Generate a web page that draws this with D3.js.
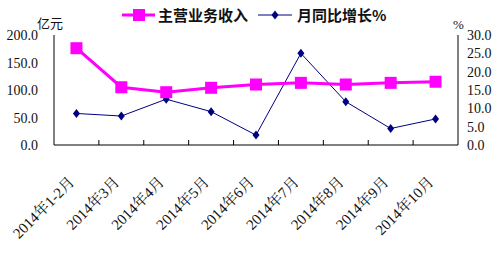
<!DOCTYPE html>
<html><head><meta charset="utf-8">
<script src="https://cdn.jsdelivr.net/npm/d3@7/dist/d3.min.js"></script>
<style>body{margin:0;background:#fff;}svg{display:block;}</style>
</head><body>
<script>
const categories = ["2014年1-2月","2014年3月","2014年4月","2014年5月","2014年6月","2014年7月","2014年8月","2014年9月","2014年10月"];
const revenue = [176, 105, 96, 104, 110, 113, 110, 113, 115];
const growth = [8.6, 7.9, 12.5, 9.1, 2.7, 25.0, 11.8, 4.5, 7.1];
const leftTicks = [0, 50, 100, 150, 200];
const rightTicks = [0, 5, 10, 15, 20, 25, 30];
const seriesNames = ["主营业务收入", "月同比增长%"];

const W = 500, H = 255;
const svg = d3.select("body").append("svg").attr("width", W).attr("height", H);
const L = 54, R = 458, T = 35, B = 145;
const x = d3.scaleBand().domain(categories).range([L, R]);
const yL = d3.scaleLinear().domain([0, 200]).range([B, T]);
const yR = d3.scaleLinear().domain([0, 30]).range([B, T]);
const font = "'Liberation Serif','Times New Roman',serif";
const xfont = "'Liberation Serif','Noto Serif CJK SC','Noto Sans CJK SC',serif";

// axis lines
svg.append("line").attr("x1", L).attr("x2", L).attr("y1", T).attr("y2", B).attr("stroke", "#000");
svg.append("line").attr("x1", R).attr("x2", R).attr("y1", T).attr("y2", B).attr("stroke", "#000");
svg.append("line").attr("x1", L).attr("x2", R).attr("y1", B).attr("y2", B).attr("stroke", "#000");
// x ticks (inward)
const bounds = categories.map(c => x(c)).concat([R]);
svg.selectAll(".xt").data(bounds.slice(1, -1)).enter().append("line")
  .attr("x1", d => d).attr("x2", d => d).attr("y1", B).attr("y2", B - 5).attr("stroke", "#000");

// left tick labels
svg.selectAll(".lt").data(leftTicks).enter().append("text")
  .attr("x", 38).attr("y", d => yL(d) + 5).attr("text-anchor", "end")
  .attr("font-family", font).attr("font-size", 14).attr("fill", "#111")
  .text(d => d3.format(".1f")(d));
svg.selectAll(".rt").data(rightTicks).enter().append("text")
  .attr("x", 467).attr("y", d => yR(d) + 5).attr("text-anchor", "start")
  .attr("font-family", font).attr("font-size", 14).attr("fill", "#111")
  .text(d => d3.format(".1f")(d));

// units
svg.append("text").attr("x", 37).attr("y", 28).attr("font-family", "'Noto Sans CJK SC',sans-serif")
  .attr("font-size", 13).attr("fill", "#111").text("亿元");
svg.append("text").attr("x", 453).attr("y", 29).attr("font-family", font)
  .attr("font-size", 13).attr("fill", "#111").text("%");

// x labels
svg.selectAll(".xl").data(categories).enter().append("text")
  .attr("transform", d => `translate(${x(d) + x.bandwidth() / 2 - 1},${B + 38}) rotate(-45)`)
  .attr("text-anchor", "end").attr("font-family", xfont)
  .attr("font-size", 15).attr("fill", "#111").text(d => d);

const cx = d => x(d) + x.bandwidth() / 2;

// growth series
svg.append("path").datum(growth)
  .attr("d", d3.line().x((d, i) => cx(categories[i])).y(d => yR(d)))
  .attr("fill", "none").attr("stroke", "#000080").attr("stroke-width", 1);
svg.selectAll(".gd").data(growth).enter().append("path")
  .attr("transform", (d, i) => `translate(${cx(categories[i])},${yR(d)})`)
  .attr("d", "M0,-4.5L3.5,0L0,4.5L-3.5,0Z").attr("fill", "#000080");

// revenue series
svg.append("path").datum(revenue)
  .attr("d", d3.line().x((d, i) => cx(categories[i])).y(d => yL(d)))
  .attr("fill", "none").attr("stroke", "#FF00FF").attr("stroke-width", 3);
svg.selectAll(".rs").data(revenue).enter().append("rect")
  .attr("x", (d, i) => cx(categories[i]) - 6).attr("y", d => yL(d) - 6)
  .attr("width", 12).attr("height", 12).attr("fill", "#FF00FF");

// legend
const lg = svg.append("g");
lg.append("line").attr("x1", 122).attr("x2", 155).attr("y1", 15).attr("y2", 15).attr("stroke", "#FF00FF").attr("stroke-width", 3);
lg.append("rect").attr("x", 133).attr("y", 9).attr("width", 12).attr("height", 12).attr("fill", "#FF00FF");
lg.append("text").attr("x", 158).attr("y", 21).attr("font-family", "'Noto Sans CJK SC',sans-serif")
  .attr("font-weight", "bold").attr("font-size", 15).attr("fill", "#111").text(seriesNames[0]);
lg.append("line").attr("x1", 258).attr("x2", 292).attr("y1", 15).attr("y2", 15).attr("stroke", "#000080").attr("stroke-width", 1);
lg.append("path").attr("transform", "translate(275,15)").attr("d", "M0,-4.5L3.5,0L0,4.5L-3.5,0Z").attr("fill", "#000080");
lg.append("text").attr("x", 297).attr("y", 21).attr("font-family", "'Noto Sans CJK SC',sans-serif")
  .attr("font-weight", "bold").attr("font-size", 15).attr("fill", "#111").text(seriesNames[1]);
</script>
</body></html>
